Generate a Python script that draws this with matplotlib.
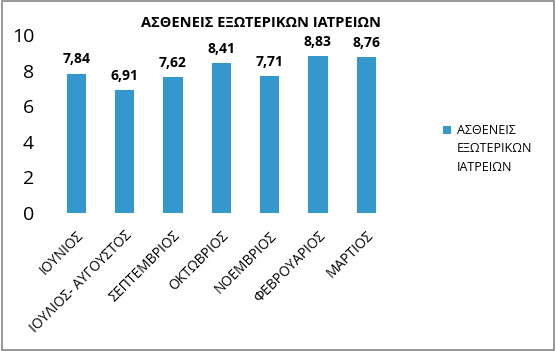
import matplotlib.pyplot as plt
from matplotlib.patches import Rectangle

months = ["ΙΟΥΝΙΟΣ", "ΙΟΥΛΙΟΣ- ΑΥΓΟΥΣΤΟΣ", "ΣΕΠΤΕΜΒΡΙΟΣ", "ΟΚΤΩΒΡΙΟΣ",
          "ΝΟΕΜΒΡΙΟΣ", "ΦΕΒΡΟΥΑΡΙΟΣ", "ΜΑΡΤΙΟΣ"]
values = [7.84, 6.91, 7.62, 8.41, 7.71, 8.83, 8.76]
value_labels = ["7,84", "6,91", "7,62", "8,41", "7,71", "8,83", "8,76"]
yticks = [0, 2, 4, 6, 8, 10]
title = "ΑΣΘΕΝΕΙΣ ΕΞΩΤΕΡΙΚΩΝ ΙΑΤΡΕΙΩΝ"
series_name = "ΑΣΘΕΝΕΙΣ\nΕΞΩΤΕΡΙΚΩΝ\nΙΑΤΡΕΙΩΝ"

plt.rcParams["font.family"] = ["Open Sans", "DejaVu Sans"]
bar_color = "#3498cc"

fig = plt.figure(figsize=(5.56, 3.51), dpi=100)
ax = fig.add_axes([0.094, 0.393, 0.608, 0.507])

x = range(len(months))
ax.bar(x, values, width=0.4, color=bar_color)

for xi, v, lab in zip(x, values, value_labels):
    ax.text(xi, v + 0.4, lab, ha="center", va="bottom", fontsize=10,
            fontweight="bold")

ax.set_xlim(-0.5, len(months) - 0.5)
ax.set_ylim(0, 10)
ax.set_yticks(yticks)
ax.set_yticklabels([str(t) for t in yticks], fontsize=14)
ax.set_xticks(list(x))
ax.set_xticklabels(months, rotation=45, ha="right", rotation_mode="anchor",
                   fontsize=10)
ax.tick_params(axis="both", length=0)
ax.tick_params(axis="y", pad=13)
ax.tick_params(axis="x", pad=11)
for s in ax.spines.values():
    s.set_visible(False)

fig.text(0.47, 0.935, title, ha="center", va="center", fontsize=10.5,
         fontweight="bold")

# legend: square marker next to the first line, text left aligned
fig.patches.append(Rectangle((0.797, 0.618), 0.0145, 0.022, transform=fig.transFigure,
                             facecolor=bar_color, edgecolor="none"))
fig.text(0.822, 0.647, series_name, ha="left", va="top", fontsize=9,
         linespacing=1.55)

fig.patches.append(Rectangle((0.003, 0.004), 0.993, 0.992, transform=fig.transFigure,
                             fill=False, edgecolor="#868686", linewidth=1.2))

fig.savefig("out.png", dpi=100)
